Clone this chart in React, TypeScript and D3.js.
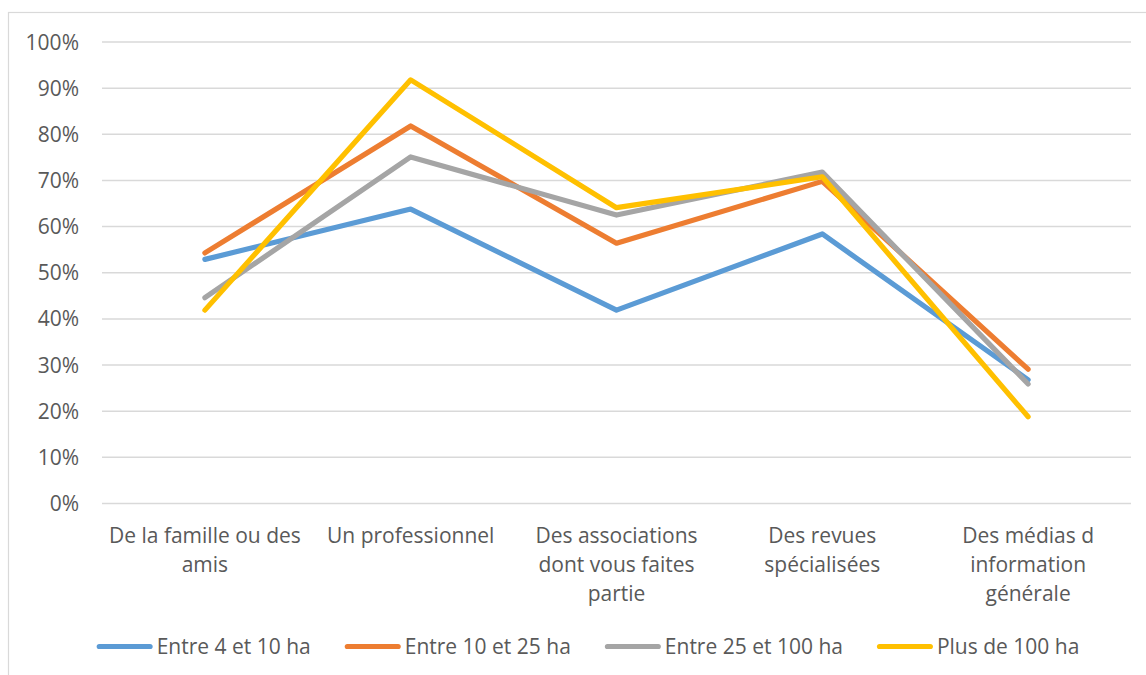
import { useEffect, useRef } from "react";
import * as d3 from "d3";

const categories = [
  "De la famille ou des amis",
  "Un professionnel",
  "Des associations dont vous faites partie",
  "Des revues spécialisées",
  "Des médias d information générale",
];
// how Excel wrapped the category labels
const categoryLines = [
  ["De la famille ou des", "amis"],
  ["Un professionnel"],
  ["Des associations", "dont vous faites", "partie"],
  ["Des revues", "spécialisées"],
  ["Des médias d", "information", "générale"],
];

const seriesNames = ["Entre 4 et 10 ha", "Entre 10 et 25 ha", "Entre 25 et 100 ha", "Plus de 100 ha"];
const small = [0.529, 0.638, 0.419, 0.584, 0.268];
const medium = [0.543, 0.818, 0.564, 0.698, 0.291];
const large = [0.446, 0.751, 0.625, 0.718, 0.259];
const huge = [0.419, 0.918, 0.641, 0.708, 0.188];
const colors = ["#5B9BD5", "#ED7D31", "#A5A5A5", "#FFC000"];
const yTicks = [0, 0.1, 0.2, 0.3, 0.4, 0.5, 0.6, 0.7, 0.8, 0.9, 1];

const W = 1146;
const H = 675;
const FONT = "'Open Sans', sans-serif";
const FS = "21px";

export default function App() {
  const ref = useRef<SVGSVGElement>(null);

  useEffect(() => {
    if (!ref.current) return;
    const svg = d3.select(ref.current);
    svg.selectAll("*").remove();

    const margin = { top: 42, right: 15, bottom: 171.5, left: 102 };
    const innerW = W - margin.left - margin.right;
    const innerH = H - margin.top - margin.bottom;

    // chart border (right/bottom edges fall outside the picture)
    svg.append("rect")
      .attr("x", 8.5).attr("y", 12.5)
      .attr("width", W + 20).attr("height", H + 20)
      .attr("fill", "#fff").attr("stroke", "#d9d9d9").attr("stroke-width", 1.2);

    const g = svg.append("g").attr("transform", `translate(${margin.left},${margin.top})`);

    const x = d3.scaleBand().domain(categories).range([0, innerW]).padding(0);
    const y = d3.scaleLinear().domain([0, 1]).range([innerH, 0]);

    // grid
    g.selectAll("line.grid")
      .data(yTicks)
      .join("line")
      .attr("class", "grid")
      .attr("x1", 0).attr("x2", innerW)
      .attr("y1", (d) => y(d)).attr("y2", (d) => y(d))
      .attr("stroke", "#d9d9d9").attr("stroke-width", 1.5);

    // y labels
    g.selectAll("text.ylab")
      .data(yTicks)
      .join("text")
      .attr("class", "ylab")
      .attr("x", -23)
      .attr("y", (d) => y(d))
      .attr("dy", "0.36em")
      .attr("text-anchor", "end")
      .style("font-family", FONT).style("font-size", FS).style("fill", "#595959")
      .text((d) => d3.format(".0%")(d));

    // x labels
    categories.forEach((c, i) => {
      const cx = x(c)! + x.bandwidth() / 2;
      g.append("text")
        .attr("text-anchor", "middle")
        .style("font-family", FONT).style("font-size", FS).style("fill", "#595959")
        .selectAll("tspan")
        .data(categoryLines[i])
        .join("tspan")
        .attr("x", cx)
        .attr("y", (_, j) => innerH + 39 + j * 29)
        .text((d) => d);
    });

    // lines
    const all = [small, medium, large, huge];
    const lineGen = d3.line<number>()
      .x((_, i) => x(categories[i])! + x.bandwidth() / 2)
      .y((d) => y(d));
    all.forEach((s, i) => {
      g.append("path")
        .datum(s)
        .attr("d", lineGen)
        .attr("fill", "none")
        .attr("stroke", colors[i])
        .attr("stroke-width", 5.2)
        .attr("stroke-linecap", "round")
        .attr("stroke-linejoin", "round");
    });

    // legend
    const leg = svg.append("g");
    let lx = 0;
    seriesNames.forEach((name, i) => {
      const item = leg.append("g").attr("transform", `translate(${lx},0)`);
      item.append("line")
        .attr("x1", 2.6).attr("x2", 53.4).attr("y1", 0).attr("y2", 0)
        .attr("stroke", colors[i]).attr("stroke-width", 5.2).attr("stroke-linecap", "round");
      const tx = item.append("text")
        .attr("x", 60).attr("dy", "0.36em")
        .style("font-family", FONT).style("font-size", FS).style("fill", "#595959")
        .text(name);
      const tw = (tx.node() as SVGTextElement).getComputedTextLength();
      lx += 60 + tw + 34;
    });
    const totalW = lx - 34;
    leg.attr("transform", `translate(${588 - totalW / 2},646.5)`);
  }, []);

  return (
    <div style={{ position: "fixed", left: 0, top: 0 }}>
      <svg ref={ref} width={W} height={H} style={{ display: "block" }} />
    </div>
  );
}
